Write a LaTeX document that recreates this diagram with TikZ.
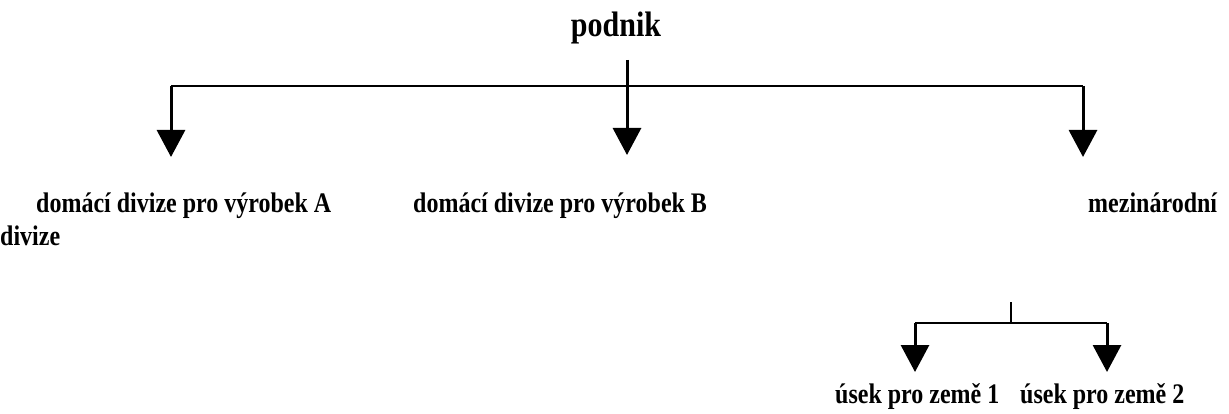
\documentclass[tikz,border=0pt]{standalone}
\usepackage{fontspec}
\setmainfont{Liberation Serif}
\usetikzlibrary{arrows.meta}
\newcommand{\tallx}[1]{\scalebox{1}[1.18]{#1}}
\begin{document}
\begin{tikzpicture}[x=1pt,y=-1pt,
  lbl/.style={inner sep=0pt,anchor=base west,font=\fontsize{24}{28}\selectfont\bfseries},
  vline/.style={line width=3pt,-{Triangle[width=28pt,length=27pt]}},
  hline/.style={line width=2pt}]
\useasboundingbox (0,0) rectangle (1229,414);
\node[lbl,anchor=base,font=\fontsize{30}{34}\selectfont\bfseries] (podnik) at (616,37) {\tallx{podnik}};
\coordinate (top) at (627,60);
\coordinate (jA) at (171,86);
\coordinate (jB) at (627,86);
\coordinate (jC) at (1083,86);
\node[lbl] (divA) at (36,213) {\tallx{domácí divize pro výrobek A}};
\node[lbl] (divB) at (413,213) {\tallx{domácí divize pro výrobek B}};
\node[lbl] (mez) at (1088,213) {\tallx{mezinárodní}};
\node[lbl] (mez2) at (0,245) {\tallx{divize}};
\coordinate (tA) at (171,157);
\coordinate (tB) at (627,155);
\coordinate (tC) at (1083,157);
\draw[hline] (jA) -- (jC);
\draw[vline] (top) -- (tB);
\draw[vline] (jA) -- (tA);
\draw[vline] (jC) -- (tC);
\coordinate (btop) at (1011,302);
\coordinate (bj1) at (915,323);
\coordinate (bj) at (1011,323);
\coordinate (bj2) at (1107,323);
\coordinate (t1) at (915,372);
\coordinate (t2) at (1107,372);
\draw[line width=1.5pt] (btop) -- (bj);
\draw[hline] (bj1) -- (bj2);
\draw[vline] (bj1) -- (t1);
\draw[vline] (bj2) -- (t2);
\node[lbl] (u1) at (835,403) {\tallx{úsek pro země 1}};
\node[lbl] (u2) at (1020,403) {\tallx{úsek pro země 2}};
\end{tikzpicture}
\end{document}
